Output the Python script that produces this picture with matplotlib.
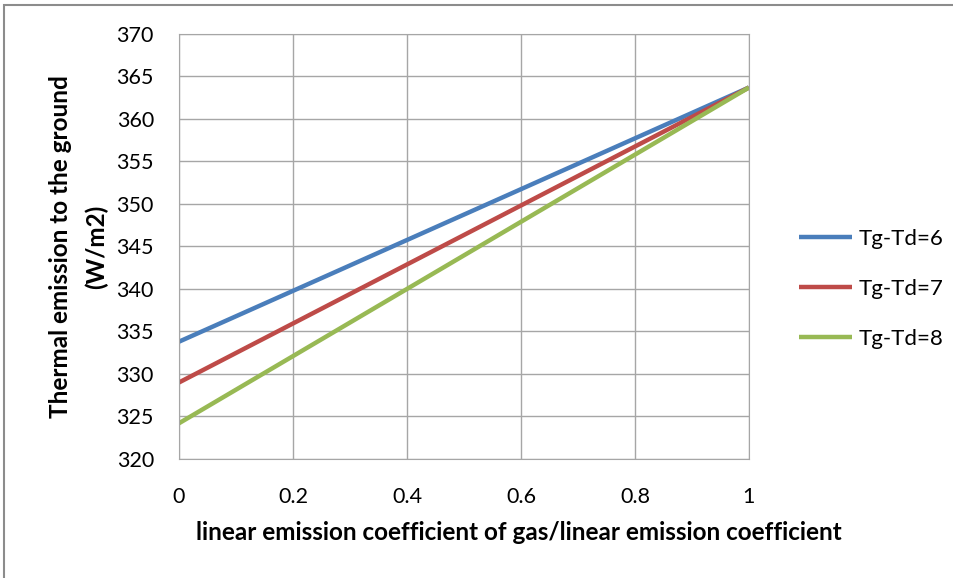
import matplotlib.pyplot as plt
from matplotlib.patches import Rectangle

# ratio of linear emission coefficients
x_ratio = [0, 1]
series_names = ['Tg-Td=6', 'Tg-Td=7', 'Tg-Td=8']
emission_6 = [333.8, 363.7]
emission_7 = [329.0, 363.7]
emission_8 = [324.2, 363.7]
x_ticks = [0, 0.2, 0.4, 0.6, 0.8, 1]
y_ticks = [320, 325, 330, 335, 340, 345, 350, 355, 360, 365, 370]

plt.rcParams['font.family'] = ['Lato', 'DejaVu Sans']

fig = plt.figure(figsize=(9.54, 5.78), dpi=100)
ax = fig.add_axes([0.1876, 0.2059, 0.785 - 0.1876, 0.9412 - 0.2059])

colors = ['#4a7ebb', '#be4b48', '#98b954']
for vals, name, c in zip([emission_6, emission_7, emission_8], series_names, colors):
    ax.plot(x_ratio, vals, color=c, lw=3.2, label=name, solid_capstyle='butt')

ax.set_xlim(0, 1)
ax.set_ylim(320, 370)
ax.set_xticks(x_ticks)
ax.set_xticklabels(['0', '0.2', '0.4', '0.6', '0.8', '1'])
ax.set_yticks(y_ticks)
ax.grid(True, color='#a6a6a6', lw=1.0)
ax.set_axisbelow(True)
for s in ax.spines.values():
    s.set_color('#a6a6a6')
ax.tick_params(length=0, labelsize=15.5)
ax.tick_params(axis='y', pad=18)
ax.tick_params(axis='x', pad=20)

ax.set_xlabel('linear emission coefficient of gas/linear emission coefficient',
              fontsize=17.5, fontweight='bold')
ax.xaxis.set_label_coords(0.596, -0.145)
ax.set_ylabel('Thermal emission to the ground\n(W/m2)', fontsize=17.5,
              fontweight='bold', linespacing=1.6)
ax.yaxis.set_label_coords(-0.125, 0.5)

leg = fig.legend(loc='center left', bbox_to_anchor=(0.826, 0.5), frameon=False,
                 fontsize=16, handlelength=2.4, handletextpad=0.3,
                 labelspacing=1.35, borderpad=0)

# outer chart frame
fig.patches.append(Rectangle((4 / 954, -0.1), 1.2, 1.1 - 5 / 578,
                             transform=fig.transFigure, fill=False,
                             edgecolor='#8c8c8c', lw=1.5))

fig.savefig('out.png', dpi=100)
